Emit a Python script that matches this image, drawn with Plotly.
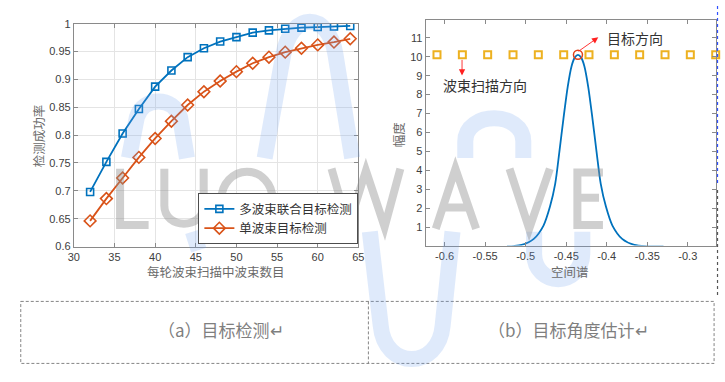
import re
import plotly.graph_objects as go

W, H = 725, 382

# ---------------- data ----------------
beams = [32, 34, 36, 38, 40, 42, 44, 46, 48, 50, 52, 54, 56, 58, 60, 62, 64]
p_multi = [0.698, 0.752, 0.803, 0.847, 0.887, 0.916, 0.940, 0.956, 0.968, 0.976,
           0.984, 0.988, 0.991, 0.993, 0.994, 0.995, 0.996]
p_single = [0.646, 0.686, 0.723, 0.760, 0.794, 0.825, 0.854, 0.878, 0.897, 0.914,
            0.929, 0.940, 0.949, 0.956, 0.962, 0.967, 0.973]
name_multi = "多波束联合目标检测"
name_single = "单波束目标检测"

spec_x = [-0.523, -0.515, -0.505, -0.490, -0.478, -0.470, -0.4636, -0.4584, -0.4535,
          -0.4482, -0.4434, -0.4395, -0.4355, -0.4315, -0.4276, -0.4228, -0.4175,
          -0.4126, -0.4074, -0.401, -0.393, -0.381, -0.366, -0.350, -0.330]
spec_y = [0.0, 0.02, 0.08, 0.40, 1.10, 2.10, 3.30, 5.00, 6.70, 8.40, 9.50, 9.95, 10.10,
          9.95, 9.50, 8.40, 6.70, 5.00, 3.30, 2.10, 1.10, 0.40, 0.08, 0.01, 0.0]
scan_x = [-0.6094, -0.5781, -0.5469, -0.5156, -0.4844, -0.4531, -0.4219, -0.3906,
          -0.3594, -0.3281, -0.2969, -0.2656]
scan_y = [10.1, 10.1, 10.1, 10.1, 10.1, 10.1, 10.1, 10.1, 10.1, 10.1, 10.1, 10.1]
target_x = [-0.4355]
target_y = [10.1]

x1_ticks = [30, 35, 40, 45, 50, 55, 60, 65]
y1_ticks = [0.6, 0.65, 0.7, 0.75, 0.8, 0.85, 0.9, 0.95, 1.0]
y1_labels = ["0.6", "0.65", "0.7", "0.75", "0.8", "0.85", "0.9", "0.95", "1"]
x2_ticks = [-0.6, -0.55, -0.5, -0.45, -0.4, -0.35, -0.3]
x2_labels = ["-0.6", "-0.55", "-0.5", "-0.45", "-0.4", "-0.35", "-0.3"]
y2_ticks = [1, 2, 3, 4, 5, 6, 7, 8, 9, 10, 11]

BLUE = "#0072BD"
ORANGE = "#D95319"
YELLOW = "#EDB120"
TICKFONT = dict(family="Liberation Sans, Arial", size=11, color="#404040")
CJK = "Noto Sans CJK SC"

fig = go.Figure()

# ---------------- left panel ----------------
fig.add_trace(go.Scatter(x=beams, y=p_multi, name=name_multi, mode="lines+markers",
                         line=dict(color=BLUE, width=1.8),
                         marker=dict(symbol="square-open", size=7, color=BLUE,
                                     line=dict(width=1.6, color=BLUE)),
                         xaxis="x", yaxis="y"))
fig.add_trace(go.Scatter(x=beams, y=p_single, name=name_single, mode="lines+markers",
                         line=dict(color=ORANGE, width=1.8),
                         marker=dict(symbol="diamond-open", size=9, color=ORANGE,
                                     line=dict(width=1.6, color=ORANGE)),
                         xaxis="x", yaxis="y"))

# ---------------- right panel ----------------
fig.add_trace(go.Scatter(x=spec_x, y=spec_y, mode="lines", showlegend=False,
                         line=dict(color=BLUE, width=1.8, shape="spline", smoothing=0.8),
                         xaxis="x2", yaxis="y2"))
fig.add_trace(go.Scatter(x=scan_x, y=scan_y, mode="markers", showlegend=False,
                         cliponaxis=False,
                         marker=dict(symbol="square-open", size=7, color=YELLOW,
                                     line=dict(width=2, color=YELLOW)),
                         xaxis="x2", yaxis="y2"))
fig.add_trace(go.Scatter(x=target_x, y=target_y, mode="markers", showlegend=False,
                         cliponaxis=False,
                         marker=dict(symbol="circle-open", size=9, color="#E0401A",
                                     line=dict(width=1.5, color="#E0401A")),
                         xaxis="x2", yaxis="y2"))


def dom_x(a, b):
    return [a / W, b / W]


def dom_y(top, bottom):
    return [1 - bottom / H, 1 - top / H]


axis_common = dict(showline=True, linecolor="#8a8a8a", linewidth=1, mirror="ticks",
                   ticks="inside", ticklen=4, tickcolor="#8a8a8a", tickfont=TICKFONT,
                   zeroline=False)

fig.update_layout(
    width=W, height=H, margin=dict(l=0, r=0, t=0, b=0),
    paper_bgcolor="white", plot_bgcolor="white",
    xaxis=dict(domain=dom_x(69, 358.3), range=[30, 65], tickvals=x1_ticks,
               showgrid=True, gridcolor="#e4e4e4", **axis_common),
    yaxis=dict(domain=dom_y(18.3, 248.3), range=[0.6, 1.0], tickvals=y1_ticks,
               ticktext=y1_labels, showgrid=True, gridcolor="#e4e4e4", **axis_common),
    xaxis2=dict(domain=dom_x(426.7, 722.3), range=[-0.6234, -0.2648], tickvals=x2_ticks,
                ticktext=x2_labels, showgrid=False, anchor="y2", **axis_common),
    yaxis2=dict(domain=dom_y(14.7, 247.3), range=[0.05, 11.92], tickvals=y2_ticks,
                showgrid=False, anchor="x2", **axis_common),
    legend=dict(x=358.3 / W, y=1 - 246 / H, xanchor="right", yanchor="bottom",
                bgcolor="white", bordercolor="#4d4d4d", borderwidth=1,
                font=dict(family=CJK, size=12.5, color="#333333"),
                tracegroupgap=0, itemwidth=30),
)

# ---------------- texts ----------------
def ptxt(text, x, y, size=13, color="#6b6b6b", angle=0, xanchor="center"):
    fig.add_annotation(text=text, x=x / W, y=1 - y / H, xref="paper", yref="paper",
                       showarrow=False, textangle=angle, xanchor=xanchor, yanchor="middle",
                       font=dict(family=CJK, size=size, color=color))


ptxt("每轮波束扫描中波束数目", 214, 274, size=12.5)
ptxt("检测成功率", 33, 134, size=12.5, angle=-90)
ptxt("空间谱", 574, 274, size=12.5)
ptxt("幅度", 399, 132, size=12.5, angle=-90)

# arrows in right panel
fig.add_annotation(x=-0.4104, y=11.02, ax=-0.4366, ay=10.23, xref="x2", yref="y2",
                   axref="x2", ayref="y2", text="", showarrow=True, arrowhead=2,
                   arrowsize=1.4, arrowwidth=0.9, arrowcolor="#ff2020")
fig.add_annotation(x=-0.5785, y=9.01, ax=-0.5785, ay=9.91, xref="x2", yref="y2",
                   axref="x2", ayref="y2", text="", showarrow=True, arrowhead=2,
                   arrowsize=1.4, arrowwidth=0.9, arrowcolor="#ff2020")
fig.add_annotation(x=-0.4023, y=11.0, xref="x2", yref="y2", text="目标方向",
                   showarrow=False, xanchor="left", yanchor="middle",
                   font=dict(family=CJK, size=14, color="#333333"))
fig.add_annotation(x=-0.5498, y=8.5, xref="x2", yref="y2", text="波束扫描方向",
                   showarrow=False, xanchor="center", yanchor="middle",
                   font=dict(family=CJK, size=14, color="#333333"))

# captions
ptxt("（a）目标检测↵", 153, 333.5, size=17, color="#7f7f7f", xanchor="left")
ptxt("（b）目标角度估计↵", 488, 333.5, size=17, color="#7f7f7f", xanchor="left")


# ---------------- decorative shapes (pixel coords -> paper) ----------------
def to_paper(d):
    out = []
    for seg in re.findall(r"[MLC][^MLC]*", d):
        cmd = seg[0]
        nums = [float(v) for v in re.findall(r"-?\d+\.?\d*", seg[1:])]
        pts = ["%.5f,%.5f" % (nums[i] / W, 1 - nums[i + 1] / H) for i in range(0, len(nums), 2)]
        out.append(cmd + " ".join(pts))
    return " ".join(out)


def pshape(d, color, width, dash=None):
    fig.add_shape(type="path", path=to_paper(d), xref="paper", yref="paper",
                  line=dict(color=color, width=width, dash=dash), layer="above")


# caption dashed boxes
box = "rgba(120,120,120,0.9)"
pshape("M15,305 L720,305 L720,369 L15,369 L15,305", box, 1, "3px,2px")
pshape("M368.5,305 L368.5,369", box, 1, "3px,2px")
# right edge dotted marks
pshape("M723.5,0 L723.5,183", "#3050ff", 1.2, "dot")
pshape("M723.5,190 L723.5,300", "#555555", 1.2, "dot")

# watermark: blue strokes
wb = "rgba(110,160,235,0.22)"
pshape("M125,157 L133,115 C140,93 170,93 177,115 L184,157", wb, 16)
pshape("M263,157 L282,50 C290,5 328,5 335,50 L352,157", wb, 16)
pshape("M467,157 L467,140 C467,108 526,108 526,140 L526,157", wb, 16)
pshape("M370,233 L381,330 C385,376 440,376 444,330 L454,233", wb, 16)
pshape("M537,233 L537,255 C537,291 586,291 586,255 L586,233", wb, 16)
pshape("M190,233 L196,252", wb, 16)

# watermark: grey letters "LUO WAVE"
wg = "rgba(140,140,140,0.42)"
pshape("M116,168 L116,226 L145,226", wg, 8)
pshape("M161,168 L161,206 C161,231 201,231 201,206 L201,168", wg, 8)
fig.add_shape(type="circle", xref="paper", yref="paper", x0=219 / W, x1=271 / W,
              y0=1 - 228 / H, y1=1 - 171 / H, line=dict(color=wg, width=8), layer="above")
pshape("M331,168 L348,228 L366,170 L385,228 L401,168", wg, 8)
pshape("M437,230 L457,168 L478,230 M444,208 L471,208", wg, 8)
pshape("M512,168 L532,230 L553,168", wg, 8)
pshape("M607,172 L581,172 L581,226 L607,226 M581,198 L603,198", wg, 8)

fig.write_html("out.html", config={"displayModeBar": False})

# remove the default page margin so the 725x382 figure fills the window exactly
with open("out.html", "r", encoding="utf-8") as f:
    html = f.read()
html = html.replace("<body>", '<body style="margin:0;padding:0;overflow:hidden">', 1)
with open("out.html", "w", encoding="utf-8") as f:
    f.write(html)
